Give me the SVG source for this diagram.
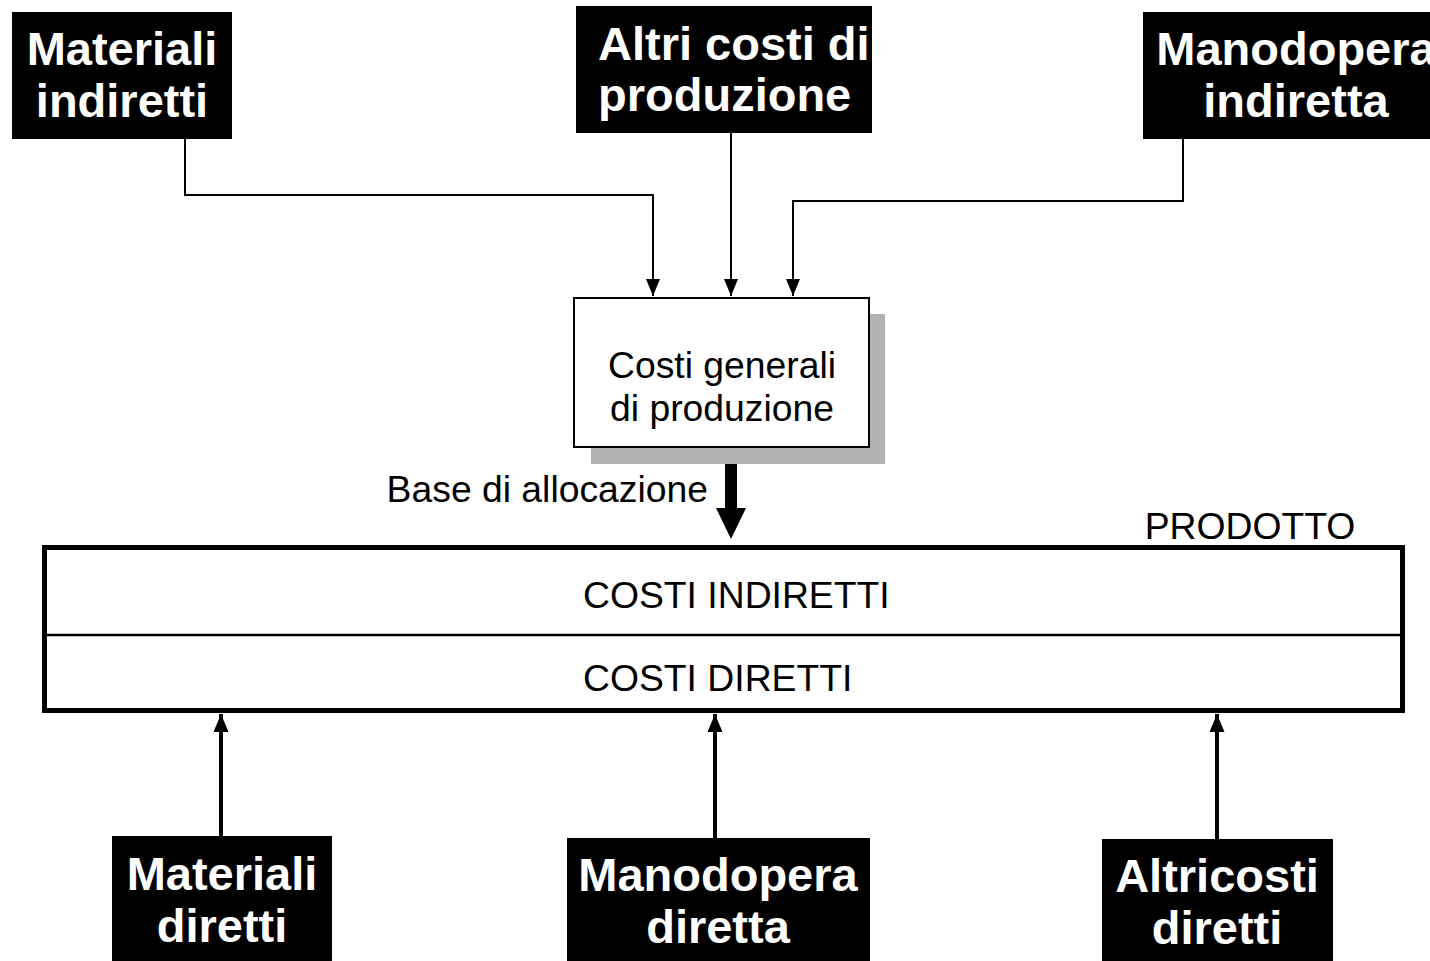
<svg xmlns="http://www.w3.org/2000/svg" width="1430" height="961" viewBox="0 0 1430 961">
<defs>
<style>
.blk{fill:#000;}
.bt{font-family:"Liberation Sans",Arial,sans-serif;font-weight:bold;font-size:47px;fill:#fff;}
.rt{font-family:"Liberation Sans",Arial,sans-serif;font-size:37.3px;fill:#000;}
.thin{fill:none;stroke:#000;stroke-width:2;}
.thick{fill:none;stroke:#000;stroke-width:4;}
</style>
<marker id="ah" markerUnits="userSpaceOnUse" markerWidth="18" markerHeight="16" refX="17" refY="8" orient="auto" viewBox="0 0 18 16">
<path d="M0,1 L17,8 L0,15 Z" fill="#000"/>
</marker>
<marker id="ahb" markerUnits="userSpaceOnUse" markerWidth="19" markerHeight="17" refX="18" refY="8.5" orient="auto" viewBox="0 0 19 17">
<path d="M0,1 L18,8.5 L0,16 Z" fill="#000"/>
</marker>
</defs>
<rect width="1430" height="961" fill="#fff"/>

<g id="connectors">
<path class="thin" d="M185,139 V195 H653 V296" marker-end="url(#ah)"/>
<path class="thin" d="M731,133 V296" marker-end="url(#ah)"/>
<path class="thin" d="M1183,139 V201 H793 V296" marker-end="url(#ah)"/>
<polygon points="725,457 737,457 737,508 746,508 731,539 716,508 725,508" fill="#000"/>
<path class="thick" d="M221,836 V714" marker-end="url(#ahb)"/>
<path class="thick" d="M715,838 V714" marker-end="url(#ahb)"/>
<path class="thick" d="M1217,839 V714" marker-end="url(#ahb)"/>
</g>

<g id="materiali-indiretti">
<rect class="blk" x="12" y="12" width="220" height="127"/>
<text class="bt" x="122" y="65" text-anchor="middle">Materiali</text>
<text class="bt" x="122" y="117" text-anchor="middle">indiretti</text>
</g>

<g id="altri-costi-produzione">
<rect class="blk" x="576" y="6" width="296" height="127"/>
<text class="bt" x="598" y="60">Altri costi di</text>
<text class="bt" x="598" y="111">produzione</text>
</g>

<g id="manodopera-indiretta">
<rect class="blk" x="1143" y="12" width="300" height="127"/>
<text class="bt" x="1296" y="65" text-anchor="middle">Manodopera</text>
<text class="bt" x="1296" y="117" text-anchor="middle">indiretta</text>
</g>

<g id="costi-generali">
<rect x="591" y="314" width="294" height="150" fill="#b2b2b2"/>
<rect x="574" y="298" width="295" height="149" fill="#fff" stroke="#000" stroke-width="2"/>
<text class="rt" x="722" y="378" text-anchor="middle">Costi generali</text>
<text class="rt" x="722" y="421" text-anchor="middle">di produzione</text>
</g>

<g id="base-allocazione">
<text class="rt" x="708" y="502" text-anchor="end">Base di allocazione</text>
</g>

<g id="prodotto">
<text class="rt" x="1250" y="539" text-anchor="middle">PRODOTTO</text>
<rect x="44.5" y="547.5" width="1358" height="163" fill="#fff" stroke="#000" stroke-width="5"/>
<line x1="47" y1="635" x2="1400" y2="635" stroke="#000" stroke-width="2.5"/>
<text class="rt" x="583" y="608">COSTI INDIRETTI</text>
<text class="rt" x="583" y="691">COSTI DIRETTI</text>
</g>

<g id="materiali-diretti">
<rect class="blk" x="112" y="836" width="220" height="125"/>
<text class="bt" x="222" y="890" text-anchor="middle">Materiali</text>
<text class="bt" x="222" y="942" text-anchor="middle">diretti</text>
</g>

<g id="manodopera-diretta">
<rect class="blk" x="567" y="838" width="303" height="123"/>
<text class="bt" x="718" y="891" text-anchor="middle">Manodopera</text>
<text class="bt" x="718" y="943" text-anchor="middle">diretta</text>
</g>

<g id="altricosti-diretti">
<rect class="blk" x="1102" y="839" width="231" height="122"/>
<text class="bt" x="1217" y="892" text-anchor="middle">Altricosti</text>
<text class="bt" x="1217" y="944" text-anchor="middle">diretti</text>
</g>
</svg>
